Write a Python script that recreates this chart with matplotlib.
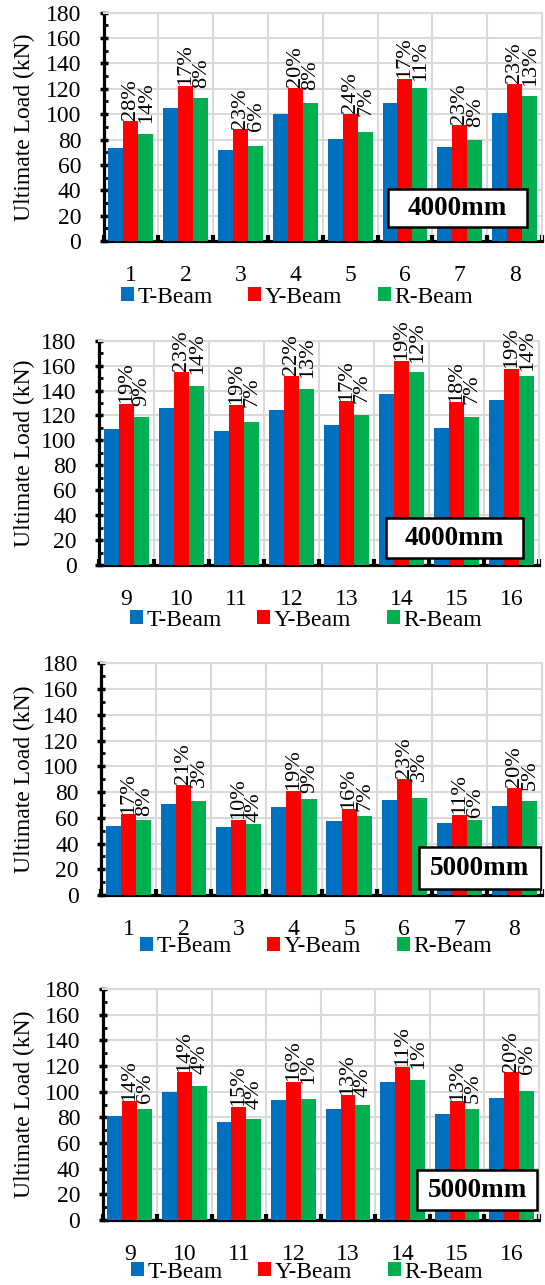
import matplotlib.pyplot as plt
import numpy as np
from matplotlib.patches import Rectangle

plt.rcParams['font.family'] = ['Liberation Serif', 'DejaVu Serif']

# beam numbers
beams_a = [1, 2, 3, 4, 5, 6, 7, 8]
beams_b = [9, 10, 11, 12, 13, 14, 15, 16]

# ultimate load (kN), 4000mm span
t_4000_a = [73.6, 104.8, 71.5, 100.3, 80.7, 108.5, 74.4, 101.1]
y_4000_a = [94.5, 122.2, 88.1, 120.6, 100.3, 127.7, 91.8, 124.0]
r_4000_a = [84.4, 112.9, 75.2, 108.5, 86.3, 120.6, 79.9, 114.0]
t_4000_b = [109.1, 125.7, 107.2, 124.1, 112.1, 136.9, 110.2, 132.4]
y_4000_b = [129.4, 155.1, 128.4, 151.6, 131.3, 163.7, 130.5, 157.3]
r_4000_b = [118.5, 143.6, 114.7, 140.9, 120.1, 154.6, 118.5, 151.9]

# ultimate load (kN), 5000mm span
t_5000_a = [53.9, 70.9, 53.1, 68.4, 57.5, 73.8, 55.7, 69.4]
y_5000_a = [62.7, 85.4, 58.3, 81.0, 66.5, 90.1, 62.1, 83.1]
r_5000_a = [58.3, 73.0, 54.9, 74.6, 61.1, 75.6, 58.3, 72.8]
t_5000_b = [81.0, 99.7, 76.4, 93.5, 86.2, 107.8, 82.6, 95.3]
y_5000_b = [92.5, 115.1, 88.3, 107.8, 97.1, 119.5, 92.5, 115.1]
r_5000_b = [86.2, 104.4, 79.0, 94.3, 89.9, 108.9, 86.2, 100.5]

# increase over T-Beam (%)
ypct_4000_a = [28, 17, 23, 20, 24, 17, 23, 23]
rpct_4000_a = [14, 8, 6, 8, 7, 11, 8, 13]
ypct_4000_b = [19, 23, 19, 22, 17, 19, 18, 19]
rpct_4000_b = [9, 14, 7, 13, 7, 12, 7, 14]
ypct_5000_a = [17, 21, 10, 19, 16, 23, 11, 20]
rpct_5000_a = [8, 3, 4, 9, 7, 3, 6, 5]
ypct_5000_b = [14, 14, 15, 16, 13, 11, 13, 20]
rpct_5000_b = [6, 4, 4, 1, 4, 1, 5, 6]

W, H = 545, 1285
fig = plt.figure(figsize=(W / 100, H / 100), dpi=100)

blue, red, green = '#0070C0', '#FF0000', '#00B050'
grid_c = '#d9d9d9'

# (beams, T, Y, R, Y%, R%, span text,
#  axes px (l, r, t, b), legend centre px, box (x0, x1, y0, y1) in axes frac)
panels = [
    (beams_a, t_4000_a, y_4000_a, r_4000_a, ypct_4000_a, rpct_4000_a, '4000mm',
     (103.5, 542, 12.7, 241), (297, 297), (0.649, 0.966, 0.063, 0.226)),
    (beams_b, t_4000_b, y_4000_b, r_4000_b, ypct_4000_b, rpct_4000_b, '4000mm',
     (99, 539, 340.7, 565), (306, 620), (0.652, 0.964, 0.030, 0.208)),
    (beams_a, t_5000_a, y_5000_a, r_5000_a, ypct_5000_a, rpct_5000_a, '5000mm',
     (101, 542, 663.3, 895), (316, 947), (0.721, 0.997, 0.026, 0.207)),
    (beams_b, t_5000_b, y_5000_b, r_5000_b, ypct_5000_b, rpct_5000_b, '5000mm',
     (102.5, 539, 989, 1220), (307, 1272), (0.721, 0.996, 0.043, 0.216)),
]

w = 0.273
for beams, tv, yv, rv, yp, rp, span, (l, r, t, b), (lx, ly), box in panels:
    ax = fig.add_axes([l / W, 1 - b / H, (r - l) / W, (b - t) / H])
    x = np.arange(len(beams))

    ax.bar(x - w, tv, w, color=blue, label='T-Beam', zorder=3)
    ax.bar(x, yv, w, color=red, label='Y-Beam', zorder=3)
    ax.bar(x + w, rv, w, color=green, label='R-Beam', zorder=3)

    # percentage labels start at the height of the Y-Beam bar
    for xi, yi, p1, p2 in zip(x, yv, yp, rp):
        ax.annotate(f'{p1}%', (xi, yi), xytext=(0, 0.5), textcoords='offset points',
                    rotation=90, ha='center', va='bottom', fontsize=16, zorder=4)
        ax.annotate(f'{p2}%', (xi + w, yi), xytext=(0.5, -1.5), textcoords='offset points',
                    rotation=90, ha='center', va='bottom', fontsize=16, zorder=4)

    ax.set_xlim(-0.5, len(beams) - 0.5)
    ax.set_ylim(0, 180)
    ax.set_xticks(x)
    ax.set_xticklabels([str(v) for v in beams])
    ax.set_xticks(np.arange(len(beams) + 1) - 0.5, minor=True)
    ax.set_yticks(np.arange(0, 181, 20))
    ax.set_yticks(np.arange(10, 180, 20), minor=True)

    ax.set_axisbelow(True)
    ax.grid(which='minor', axis='x', color=grid_c, lw=1.5)
    ax.grid(which='major', axis='y', color=grid_c, lw=1.5)

    ax.tick_params(axis='x', which='both', direction='in', length=4, width=3,
                   pad=17, labelsize=17)
    ax.tick_params(axis='y', which='major', direction='inout', length=6, width=2.5,
                   pad=13, labelsize=17)
    ax.tick_params(axis='y', which='minor', direction='in', length=3, width=2)

    for s in ['left', 'bottom']:
        ax.spines[s].set_linewidth(2.3)
    for s in ['top', 'right']:
        ax.spines[s].set_color(grid_c)
        ax.spines[s].set_linewidth(1.5)

    ax.set_ylabel('Ultimate Load (kN)', fontsize=17)
    ax.yaxis.set_label_coords((35 - l) / (r - l), 0.5)

    ax.legend(loc='center', bbox_to_anchor=(lx / W, 1 - ly / H),
              bbox_transform=fig.transFigure, ncol=3, frameon=False,
              fontsize=17, handlelength=0.55, handleheight=0.55,
              handletextpad=0.15, columnspacing=1.5, borderaxespad=0)

    x0, x1, y0, y1 = box
    ax.add_patch(Rectangle((x0, y0), x1 - x0, y1 - y0, transform=ax.transAxes,
                           facecolor='white', edgecolor='black', lw=1.8, zorder=5))
    ax.text((x0 + x1) / 2, (y0 + y1) / 2, span, transform=ax.transAxes,
            ha='center', va='center', fontsize=19.5, fontweight='bold', zorder=6)

fig.savefig('out.png', dpi=100)
